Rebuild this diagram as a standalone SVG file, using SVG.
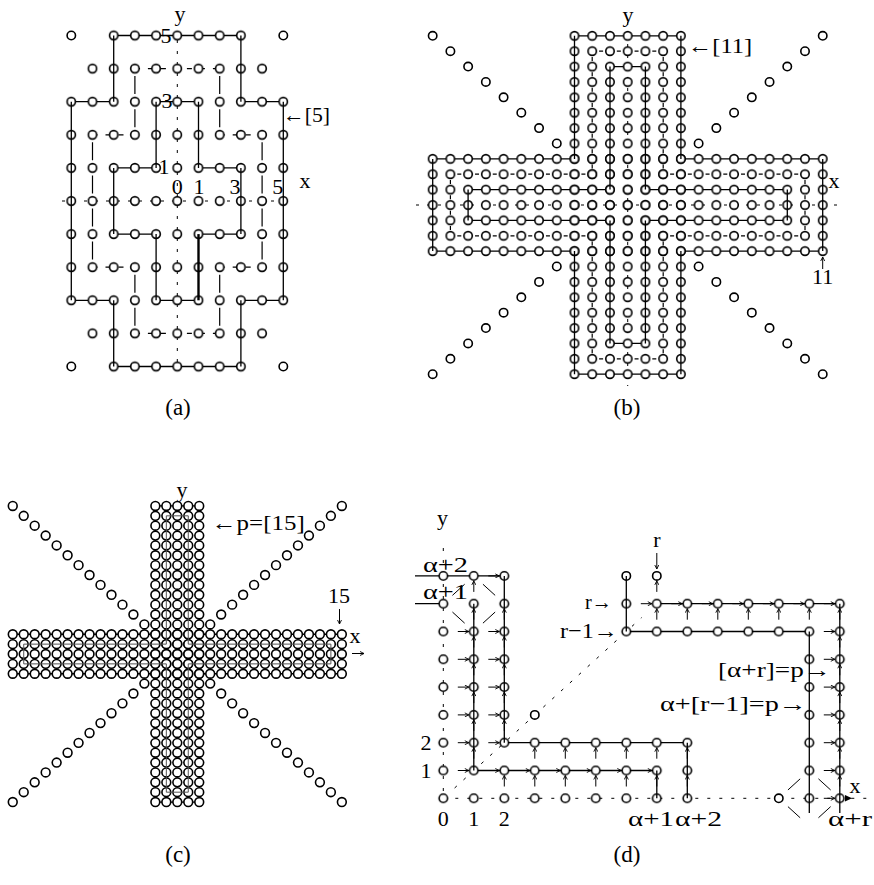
<svg xmlns="http://www.w3.org/2000/svg" width="874" height="885" viewBox="0 0 874 885">
<defs>
<style>
.ln{fill:none;stroke:#000;stroke-width:1.3}
.bd{fill:none;stroke:#000;stroke-width:2.4}
.dva{fill:none;stroke:#000;stroke-width:1.2;stroke-dasharray:18 15.1;stroke-dashoffset:25.6}
.dha{fill:none;stroke:#000;stroke-width:1.2;stroke-dasharray:5 8}
.dvb{fill:none;stroke:#000;stroke-width:1.2;stroke-dasharray:4 11.38;stroke-dashoffset:9.68}
.dhb{fill:none;stroke:#000;stroke-width:1.2;stroke-dasharray:4 13.73;stroke-dashoffset:10.83}
.ax{fill:none;stroke:#000;stroke-width:1;stroke-dasharray:3 8}
.dt{fill:none;stroke:#000;stroke-width:1;stroke-dasharray:3 9}
.ar{fill:none;stroke:#000;stroke-width:1;marker-end:url(#ah)}
.dg{fill:none;stroke:#000;stroke-width:1}
.gr{fill:none;stroke:#555;stroke-width:1}
text{font-family:"Liberation Serif","Times New Roman",serif;font-size:22px;fill:#000}
.m{text-anchor:middle}
.cap{font-size:23px;text-anchor:middle}
</style>
<marker id="ah" viewBox="0 0 10 10" refX="9" refY="5" markerWidth="5" markerHeight="5" markerUnits="userSpaceOnUse" orient="auto"><path d="M1 1L9 5L1 9" fill="none" stroke="#000" stroke-width="1.8"/></marker>
<circle id="c" r="4.2" fill="#fff" stroke="#000" stroke-width="1.6"/>
<circle id="c2" r="4.4" fill="#fff" stroke="#000" stroke-width="1.6"/>
<path id="ra" class="ar" d="M-11 0H0"/>
<path id="ua" class="ar" d="M0 11V0"/>
<pattern id="pa" patternUnits="userSpaceOnUse" x="166.7" y="184.45" width="21.2" height="33.1"><use href="#c" x="10.6" y="16.55"/></pattern>
<pattern id="pb" patternUnits="userSpaceOnUse" x="618.835" y="197.31" width="17.73" height="15.38"><use href="#c" x="8.865" y="7.69"/></pattern>
<pattern id="pd" patternUnits="userSpaceOnUse" x="428.05" y="784.4" width="30.5" height="27.8"><use href="#c" x="15.25" y="13.9"/></pattern>
<g id="qb">
<use href="#c" x="70.92" y="-61.52"/><use href="#c" x="88.65" y="-76.9"/><use href="#c" x="106.38" y="-92.28"/><use href="#c" x="124.11" y="-107.66"/>
<use href="#c" x="141.84" y="-123.04"/><use href="#c" x="159.57" y="-138.42"/><use href="#c" x="177.3" y="-153.8"/><use href="#c" x="195.03" y="-169.18"/>
</g>
<g id="qc">
<use href="#c2" x="32.91" y="-29.61"/><use href="#c2" x="43.88" y="-39.48"/><use href="#c2" x="54.85" y="-49.35"/><use href="#c2" x="65.82" y="-59.22"/>
<use href="#c2" x="76.79" y="-69.09"/><use href="#c2" x="87.76" y="-78.96"/><use href="#c2" x="98.73" y="-88.83"/><use href="#c2" x="109.7" y="-98.7"/>
<use href="#c2" x="120.67" y="-108.57"/><use href="#c2" x="131.64" y="-118.44"/><use href="#c2" x="142.61" y="-128.31"/><use href="#c2" x="153.58" y="-138.18"/>
<use href="#c2" x="164.55" y="-148.05"/>
</g>
<g id="colc">
<use href="#c2" y="-148.05"/><use href="#c2" y="-138.18"/><use href="#c2" y="-128.31"/><use href="#c2" y="-118.44"/><use href="#c2" y="-108.57"/><use href="#c2" y="-98.7"/><use href="#c2" y="-88.83"/><use href="#c2" y="-78.96"/>
<use href="#c2" y="-69.09"/><use href="#c2" y="-59.22"/><use href="#c2" y="-49.35"/><use href="#c2" y="-39.48"/><use href="#c2" y="-29.61"/><use href="#c2" y="-19.74"/><use href="#c2" y="-9.87"/><use href="#c2" y="0"/>
<use href="#c2" y="9.87"/><use href="#c2" y="19.74"/><use href="#c2" y="29.61"/><use href="#c2" y="39.48"/><use href="#c2" y="49.35"/><use href="#c2" y="59.22"/><use href="#c2" y="69.09"/><use href="#c2" y="78.96"/>
<use href="#c2" y="88.83"/><use href="#c2" y="98.7"/><use href="#c2" y="108.57"/><use href="#c2" y="118.44"/><use href="#c2" y="128.31"/><use href="#c2" y="138.18"/><use href="#c2" y="148.05"/>
</g>
<g id="rowc">
<use href="#c2" x="-164.55"/><use href="#c2" x="-153.58"/><use href="#c2" x="-142.61"/><use href="#c2" x="-131.64"/><use href="#c2" x="-120.67"/><use href="#c2" x="-109.7"/><use href="#c2" x="-98.73"/><use href="#c2" x="-87.76"/>
<use href="#c2" x="-76.79"/><use href="#c2" x="-65.82"/><use href="#c2" x="-54.85"/><use href="#c2" x="-43.88"/><use href="#c2" x="-32.91"/><use href="#c2" x="-21.94"/><use href="#c2" x="-10.97"/><use href="#c2" x="0"/>
<use href="#c2" x="10.97"/><use href="#c2" x="21.94"/><use href="#c2" x="32.91"/><use href="#c2" x="43.88"/><use href="#c2" x="54.85"/><use href="#c2" x="65.82"/><use href="#c2" x="76.79"/><use href="#c2" x="87.76"/>
<use href="#c2" x="98.73"/><use href="#c2" x="109.7"/><use href="#c2" x="120.67"/><use href="#c2" x="131.64"/><use href="#c2" x="142.61"/><use href="#c2" x="153.58"/><use href="#c2" x="164.55"/>
</g>
</defs>
<rect width="874" height="885" fill="#fff"/>

<g id="panel-a">
<path class="ax" d="M177.3 40V362M62 201H290"/>
<path class="ln" d="M113.7 35.5H240.9M71.3 101.7H113.7M240.9 101.7H283.3M71.3 300.3H113.7M240.9 300.3H283.3M113.7 366.5H240.9M156.1 101.7H198.5M113.7 167.9H156.1M198.5 167.9H240.9M113.7 234.1H156.1M198.5 234.1H240.9M156.1 300.3H198.5"/>
<path class="dha" d="M134.9 68.6H219.7M92.5 134.8H134.9M219.7 134.8H262.1M92.5 267.2H134.9M219.7 267.2H262.1M134.9 333.4H219.7"/>
<path class="dva" d="M134.9 68.6V134.8M134.9 267.2V333.4M219.7 68.6V134.8M219.7 267.2V333.4M92.5 134.8V267.2M262.1 134.8V267.2"/>
<g id="a-nodes">
<rect x="60.7" y="85.15" width="233.2" height="231.7" fill="url(#pa)"/>
<rect x="81.9" y="52.05" width="190.8" height="33.1" fill="url(#pa)"/>
<rect x="81.9" y="316.85" width="190.8" height="33.1" fill="url(#pa)"/>
<rect x="103.1" y="18.95" width="148.4" height="33.1" fill="url(#pa)"/>
<rect x="103.1" y="349.95" width="148.4" height="33.1" fill="url(#pa)"/>
<use href="#c" x="71.3" y="35.5"/><use href="#c" x="283.3" y="35.5"/><use href="#c" x="71.3" y="366.5"/><use href="#c" x="283.3" y="366.5"/>
</g>
<path class="ln" d="M113.7 35.5V101.7M113.7 300.3V366.5M240.9 35.5V101.7M240.9 300.3V366.5M71.3 101.7V300.3M283.3 101.7V300.3M156.1 101.7V167.9M156.1 234.1V300.3M198.5 101.7V167.9M113.7 167.9V234.1M240.9 167.9V234.1"/>
<path class="bd" d="M198.5 234.1V300.3"/>
<g id="a-labels">
<text class="m" x="180" y="21">y</text>
<text class="m" x="166" y="43">5</text>
<text class="m" x="167" y="108">3</text>
<text class="m" x="164" y="174">1</text>
<text class="m" x="177.3" y="194">0</text>
<text class="m" x="199" y="194">1</text>
<text class="m" x="235" y="194">3</text>
<text class="m" x="277.7" y="194">5</text>
<text class="m" x="305" y="188">x</text>
<text x="283" y="122" textLength="47" lengthAdjust="spacingAndGlyphs">←[5]</text>
<text class="cap" x="178" y="415">(a)</text>
</g>
</g>

<g id="panel-b">
<path class="ax" d="M627.7 22V386M416 205H842"/>
<path class="ln" d="M574.5 35.8H680.9M432.7 158.9H574.5M680.9 158.9H822.7M432.7 251.1H574.5M680.9 251.1H822.7M574.5 374.2H680.9M610 66.6H645.4M468.1 189.6H610M645.4 189.6H787.3M468.1 220.4H610M645.4 220.4H787.3M610 343.4H645.4"/>
<path class="dhb" d="M592.2 51.2H663.2M450.4 174.2H592.2M663.2 174.2H805M450.4 235.8H592.2M663.2 235.8H805M592.2 358.8H663.2"/>
<path class="dvb" d="M592.2 51.2V174.2M592.2 235.8V358.8M663.2 51.2V174.2M663.2 235.8V358.8M450.4 174.2V235.8M805 174.2V235.8"/>
<g id="b-nodes">
<rect x="565.645" y="28.13" width="124.11" height="353.74" fill="url(#pb)"/>
<rect x="423.805" y="151.17" width="407.79" height="107.66" fill="url(#pb)"/>
<use href="#qb" transform="translate(627.7 205)"/>
<use href="#qb" transform="translate(627.7 205) scale(-1 1)"/>
<use href="#qb" transform="translate(627.7 205) scale(1 -1)"/>
<use href="#qb" transform="translate(627.7 205) scale(-1 -1)"/>
</g>
<path class="ln" d="M574.5 35.8V158.9M574.5 251.1V374.2M680.9 35.8V158.9M680.9 251.1V374.2M432.7 158.9V251.1M822.7 158.9V251.1M610 66.6V189.6M610 220.4V343.4M645.4 66.6V189.6M645.4 220.4V343.4M468.1 189.6V220.4M787.3 189.6V220.4"/>
<g id="b-labels">
<text class="m" x="628" y="22">y</text>
<text x="688" y="53" textLength="64" lengthAdjust="spacingAndGlyphs">←[11]</text>
<text class="m" x="834" y="188">x</text>
<path class="ar" d="M822.7 269V257"/>
<text class="m" x="822.7" y="284">11</text>
<text class="cap" x="627" y="415">(b)</text>
</g>
</g>

<g id="panel-c">
<path class="ln" d="M155.36 505.95H199.24V634.26H341.85V673.74H199.24V802.05H155.36V673.74H12.75V634.26H155.36Z"/>
<g id="c-nodes">
<use href="#rowc" x="177.3" y="634.26"/><use href="#rowc" x="177.3" y="644.13"/><use href="#rowc" x="177.3" y="654"/><use href="#rowc" x="177.3" y="663.87"/><use href="#rowc" x="177.3" y="673.74"/>
<use href="#colc" x="155.36" y="654"/><use href="#colc" x="166.33" y="654"/><use href="#colc" x="177.3" y="654"/><use href="#colc" x="188.27" y="654"/><use href="#colc" x="199.24" y="654"/>
<use href="#qc" transform="translate(177.3 654)"/>
<use href="#qc" transform="translate(177.3 654) scale(-1 1)"/>
<use href="#qc" transform="translate(177.3 654) scale(1 -1)"/>
<use href="#qc" transform="translate(177.3 654) scale(-1 -1)"/>
</g>
<path class="gr" d="M166.33 515.82H188.27V644.13H330.88V663.87H188.27V792.18H166.33V663.87H23.72V644.13H166.33Z"/>
<g id="c-labels">
<text class="m" x="182" y="497">y</text>
<text x="211.7" y="530" textLength="93" lengthAdjust="spacingAndGlyphs">←p=[15]</text>
<text class="m" x="339" y="603">15</text>
<path class="ar" d="M339.5 609V624"/>
<text class="m" x="355" y="643">x</text>
<path class="ar" d="M352 653.5H364"/>
<text class="cap" x="178" y="862">(c)</text>
</g>
</g>

<g id="panel-d">
<path class="dt" d="M443.3 548V798.3M443.3 798.3H874"/>
<path class="dt" d="M454.6 788L641.6 617.6"/>
<path class="ln" d="M415 575.9H504.3M415 603.7H443.3M504.3 742.7H687.3M473.8 770.5H656.8M656.8 603.7H839.8M626.3 631.5H809.3"/>
<g id="d-nodes">
<rect x="428.05" y="562" width="91.5" height="250.2" fill="url(#pd)"/>
<rect x="519.55" y="728.8" width="183" height="83.4" fill="url(#pd)"/>
<rect x="794.05" y="589.8" width="61" height="222.4" fill="url(#pd)"/>
<rect x="611.05" y="589.8" width="183" height="55.6" fill="url(#pd)"/>
<use href="#c" x="534.8" y="714.9"/><use href="#c" x="626.3" y="575.9"/><use href="#c" x="656.8" y="575.9"/><use href="#c" x="778.8" y="798.3"/>
</g>
<path class="ln" d="M473.8 770.5V603.7M504.3 742.7V575.9M626.3 631.5V575.9M656.8 798.3V770.5M687.3 798.3V742.7M809.3 631.5V813M839.8 603.7V813"/>
<path class="dg" d="M482.95 584.24L495.15 595.36M495.15 612.04L482.95 623.16M464.65 623.16L452.45 612.04M452.45 595.36L464.65 584.24M787.95 789.96L800.15 778.84M818.45 778.84L830.65 789.96M830.65 806.64L818.45 817.76M800.15 817.76L787.95 806.64"/>
<path d="M845 795L852 798.3L845 801.6Z" fill="#000"/>
<g id="d-arrows">
<use href="#ra" x="468.8" y="770.5"/><use href="#ra" x="499.3" y="770.5"/><use href="#ra" x="529.8" y="770.5"/><use href="#ra" x="560.3" y="770.5"/><use href="#ra" x="590.8" y="770.5"/><use href="#ra" x="621.3" y="770.5"/><use href="#ra" x="651.8" y="770.5"/>
<use href="#ra" x="468.8" y="742.7"/><use href="#ra" x="499.3" y="742.7"/>
<use href="#ra" x="468.8" y="714.9"/><use href="#ra" x="499.3" y="714.9"/>
<use href="#ra" x="468.8" y="687.1"/><use href="#ra" x="499.3" y="687.1"/>
<use href="#ra" x="468.8" y="659.3"/><use href="#ra" x="499.3" y="659.3"/>
<use href="#ra" x="468.8" y="631.5"/><use href="#ra" x="499.3" y="631.5"/>
<use href="#ra" x="499.3" y="575.9"/>
<use href="#ra" x="651.8" y="603.7"/><use href="#ra" x="682.3" y="603.7"/><use href="#ra" x="712.8" y="603.7"/><use href="#ra" x="743.3" y="603.7"/><use href="#ra" x="773.8" y="603.7"/><use href="#ra" x="804.3" y="603.7"/><use href="#ra" x="834.8" y="603.7"/>
<use href="#ra" x="834.8" y="798.3"/><use href="#ra" x="834.8" y="770.5"/><use href="#ra" x="834.8" y="742.7"/><use href="#ra" x="834.8" y="714.9"/><use href="#ra" x="834.8" y="687.1"/><use href="#ra" x="834.8" y="659.3"/><use href="#ra" x="834.8" y="631.5"/>
<use href="#ua" x="473.8" y="747.7"/><use href="#ua" x="473.8" y="719.9"/><use href="#ua" x="473.8" y="692.1"/><use href="#ua" x="473.8" y="664.3"/><use href="#ua" x="473.8" y="636.5"/><use href="#ua" x="473.8" y="608.7"/><use href="#ua" x="473.8" y="580.9"/>
<use href="#ua" x="504.3" y="775.5"/><use href="#ua" x="504.3" y="719.9"/><use href="#ua" x="504.3" y="692.1"/><use href="#ua" x="504.3" y="664.3"/><use href="#ua" x="504.3" y="636.5"/><use href="#ua" x="504.3" y="608.7"/>
<use href="#ua" x="534.8" y="775.5"/><use href="#ua" x="534.8" y="747.7"/>
<use href="#ua" x="565.3" y="775.5"/><use href="#ua" x="565.3" y="747.7"/>
<use href="#ua" x="595.8" y="775.5"/><use href="#ua" x="595.8" y="747.7"/>
<use href="#ua" x="626.3" y="775.5"/><use href="#ua" x="626.3" y="747.7"/>
<use href="#ua" x="656.8" y="775.5"/><use href="#ua" x="656.8" y="747.7"/>
<use href="#ua" x="687.3" y="775.5"/><use href="#ua" x="687.3" y="747.7"/>
<use href="#ua" x="656.8" y="608.7"/><use href="#ua" x="656.8" y="580.9"/>
<use href="#ua" x="687.3" y="608.7"/><use href="#ua" x="717.8" y="608.7"/><use href="#ua" x="748.3" y="608.7"/><use href="#ua" x="778.8" y="608.7"/><use href="#ua" x="809.3" y="608.7"/>
<use href="#ua" x="839.8" y="775.5"/><use href="#ua" x="839.8" y="747.7"/><use href="#ua" x="839.8" y="719.9"/><use href="#ua" x="839.8" y="692.1"/><use href="#ua" x="839.8" y="664.3"/><use href="#ua" x="839.8" y="636.5"/><use href="#ua" x="839.8" y="608.7"/>
<path class="ar" d="M656.8 553V569"/>
</g>
<g id="d-labels">
<text class="m" x="442.5" y="525">y</text>
<text x="423" y="572" textLength="45" lengthAdjust="spacingAndGlyphs">α+2</text>
<text x="423" y="599" textLength="45" lengthAdjust="spacingAndGlyphs">α+1</text>
<text class="m" x="656.8" y="547">r</text>
<text x="585" y="609" textLength="27" lengthAdjust="spacingAndGlyphs">r→</text>
<text x="560" y="638" textLength="58" lengthAdjust="spacingAndGlyphs">r−1→</text>
<text x="718" y="677" textLength="113" lengthAdjust="spacingAndGlyphs">[α+r]=p→</text>
<text x="660" y="711" textLength="147" lengthAdjust="spacingAndGlyphs">α+[r−1]=p→</text>
<text class="m" x="426" y="750">2</text>
<text class="m" x="426" y="778">1</text>
<text class="m" x="443.3" y="826">0</text>
<text class="m" x="473.8" y="826">1</text>
<text class="m" x="504.3" y="826">2</text>
<text x="628" y="826" textLength="46" lengthAdjust="spacingAndGlyphs">α+1</text>
<text x="675" y="826" textLength="47" lengthAdjust="spacingAndGlyphs">α+2</text>
<text x="828" y="826" textLength="44" lengthAdjust="spacingAndGlyphs">α+r</text>
<text class="m" x="855" y="793">x</text>
<text class="cap" x="627" y="862">(d)</text>
</g>
</g>
</svg>
